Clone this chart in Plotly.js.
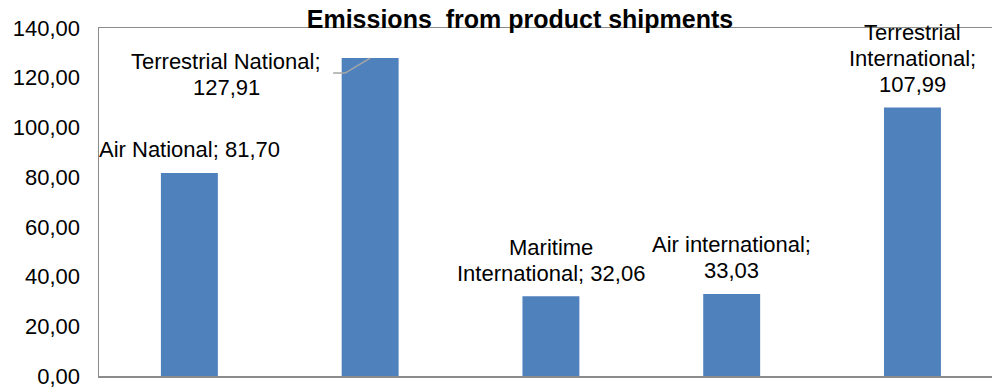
<!DOCTYPE html>
<html>
<head>
<meta charset="utf-8">
<script src="https://cdn.plot.ly/plotly-3.0.1.min.js"></script>
<style>
  html, body { margin: 0; padding: 0; background: #fff; overflow: hidden; }
  #chart { width: 992px; height: 388px; }
</style>
</head>
<body>
<div id="chart"></div>
<script>
// Shipment modes and their emissions
const categories = ['Air National', 'Terrestrial National', 'Maritime International', 'Air international', 'Terrestrial International'];
const emissions = [81.70, 127.91, 32.06, 33.03, 107.99];
const yTicks = [0, 20, 40, 60, 80, 100, 120, 140];

// Word index after which each data label wraps to a new line
const wrapAfterWord = [[], [1], [0], [1], [0, 1]];
// Pixel offsets of each data label's bottom line from its bar top
const labelDx = [0, -144, 0, 0, 0];
const labelDy = [23, -29, 23, 23, 23];
const LINE_STEP = 26;

const FONT = 'Liberation Sans, Arial, sans-serif';
const fmt = v => v.toFixed(2).replace('.', ',');

const annotations = [];
categories.forEach((cat, i) => {
  const words = (cat + '; ' + fmt(emissions[i])).split(' ');
  const lines = [];
  let cur = [];
  words.forEach((w, k) => {
    cur.push(w);
    if (wrapAfterWord[i].includes(k)) { lines.push(cur.join(' ')); cur = []; }
  });
  if (cur.length) lines.push(cur.join(' '));
  const n = lines.length;
  lines.forEach((line, k) => {
    annotations.push({
      x: i, y: emissions[i], xref: 'x', yref: 'y',
      text: line, showarrow: false,
      xanchor: 'center', yanchor: 'middle',
      xshift: labelDx[i],
      yshift: labelDy[i] + (n - 1 - k) * LINE_STEP,
      font: { family: FONT, size: 22, color: '#000' }
    });
  });
});

// Leader line from the offset label to the top of its bar
const leader = {
  type: 'path', xref: 'x', yref: 'y',
  xsizemode: 'pixel', ysizemode: 'pixel',
  xanchor: 1, yanchor: emissions[1],
  path: 'M-37,-15 L-25,-15 L0,0',
  line: { color: '#a6a6a6', width: 1.5 }
};

const trace = {
  type: 'bar',
  x: categories.map((c, i) => i),
  y: emissions,
  width: 0.315,
  marker: { color: '#4F81BD', line: { width: 0 } },
  hoverinfo: 'skip'
};

const layout = {
  width: 992, height: 388,
  margin: { l: 99, r: 0, t: 28, b: 12 },
  paper_bgcolor: '#fff', plot_bgcolor: '#fff',
  separators: ',.',
  showlegend: false,
  title: {
    text: '<b>Emissions&nbsp; from product shipments</b>',
    font: { family: FONT, size: 25, color: '#000' },
    xref: 'container', yref: 'container',
    x: 520 / 992, xanchor: 'center',
    y: 1 - 19 / 388, yanchor: 'middle'
  },
  xaxis: {
    range: [-0.5, 4.44],
    showticklabels: false, ticks: '',
    showgrid: false, zeroline: false,
    showline: true, linecolor: '#8c8c8c', linewidth: 1.5, mirror: true,
    fixedrange: true
  },
  yaxis: {
    range: [0, 140],
    tickvals: yTicks, tickformat: '.2f',
    ticks: '', ticklabelstandoff: 13,
    ticklabeloverflow: 'allow',
    tickfont: { family: FONT, size: 22, color: '#000' },
    showgrid: false, zeroline: false,
    showline: true, linecolor: '#8c8c8c', linewidth: 1.5,
    fixedrange: true
  },
  shapes: [leader],
  annotations: annotations
};

Plotly.newPlot('chart', [trace], layout, { displayModeBar: false, staticPlot: true });
</script>
</body>
</html>
